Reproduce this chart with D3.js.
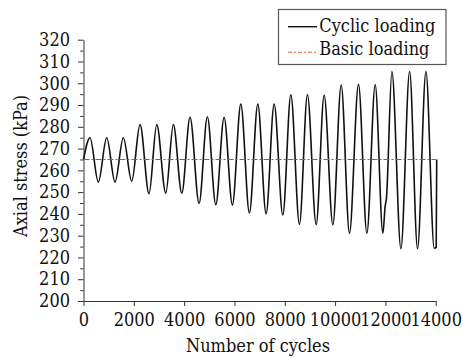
<!DOCTYPE html>
<html>
<head>
<meta charset="utf-8">
<script src="https://cdn.jsdelivr.net/npm/d3@7"></script>
<style>
  html, body { margin: 0; padding: 0; background: #fff; }
  svg { display: block; }
</style>
</head>
<body>
<svg id="chart" width="463" height="358"></svg>
<script>
// Cyclic loading: turning points (number of cycles, kPa)
const cycles = [0, 259, 589, 923, 1253, 1583, 1917,
  2247, 2605, 2912, 3270, 3572, 3906,
  4236, 4594, 4924, 5259, 5589, 5919,
  6253, 6595, 6929, 7259, 7578, 7924,
  8242, 8584, 8902, 9248, 9566, 9912,
  10243, 10573, 10931, 11265, 11595, 11901,
  11990, 12040,
  12259, 12617, 12963, 13278, 13612, 13942,
  14020, 14040];
const cyclicStress = [265, 275, 254.6, 275, 254.6, 275, 255,
  281, 249.3, 281, 249.5, 281, 249.5,
  284.4, 244.8, 284.6, 244.2, 284.4, 244.1,
  290.4, 240.5, 290.4, 240, 290.4, 239.5,
  294.7, 235.3, 294.7, 235.1, 294.5, 235,
  299.2, 231.1, 299.5, 231.1, 299.3, 231.1,
  243.5, 247,
  305.4, 224, 305.4, 224, 305.4, 224.2,
  224.6, 265];

// Basic loading
const basicCycles = [0, 14000];
const basicStress = [265, 265];

// Axes
const xTicks = [0, 2000, 4000, 6000, 8000, 10000, 12000, 14000];
const yTicks = [200, 210, 220, 230, 240, 250, 260, 270, 280, 290, 300, 310, 320];
const yMinorTicks = [205, 215, 225, 235, 245, 255, 265, 275, 285, 295, 305, 315];

const seriesNames = ["Cyclic loading", "Basic loading"];
const xTitle = "Number of cycles";
const yTitle = "Axial stress (kPa)";

const FONT = "DejaVu Serif Condensed, DejaVu Serif";
const svg = d3.select("#chart");
const FS = 18;

const x = d3.scaleLinear().domain([0, 14000]).range([83.5, 435.7]);
const y = d3.scaleLinear().domain([200, 320]).range([301, 39.7]);

function styleText(sel) {
  sel.attr("font-family", FONT).attr("font-stretch", "condensed")
     .attr("font-size", FS).attr("fill", "#111");
}

// y minor ticks
svg.append("g")
  .attr("transform", `translate(${x(0)},0)`)
  .call(d3.axisLeft(y).tickValues(yMinorTicks).tickSize(3.3).tickFormat(""))
  .call(g => g.select(".domain").remove())
  .call(g => g.selectAll("line").attr("stroke", "#333"));

// y axis
svg.append("g")
  .attr("transform", `translate(${x(0)},0)`)
  .call(d3.axisLeft(y).tickValues(yTicks).tickSize(5.5).tickSizeOuter(0).tickPadding(8))
  .call(g => g.select(".domain").attr("stroke", "#333"))
  .call(g => g.selectAll("line").attr("stroke", "#333"))
  .call(g => styleText(g.selectAll("text")));

// x axis
svg.append("g")
  .attr("transform", `translate(0,${y(200)})`)
  .call(d3.axisBottom(x).tickValues(xTicks).tickSize(5).tickSizeOuter(0).tickPadding(7).tickFormat(d3.format("d")))
  .call(g => g.select(".domain").attr("stroke", "#333"))
  .call(g => g.selectAll("line").attr("stroke", "#333"))
  .call(g => styleText(g.selectAll("text")));

// Titles
svg.append("text")
  .attr("x", 258).attr("y", 352)
  .attr("text-anchor", "middle")
  .call(styleText)
  .text(xTitle);

svg.append("text")
  .attr("transform", "translate(27,166) rotate(-90)")
  .attr("text-anchor", "middle")
  .call(styleText)
  .text(yTitle);

// Cyclic line
const cyclicData = cycles.map((c, i) => [c, cyclicStress[i]]);
const line = d3.line().x(d => x(d[0])).y(d => y(d[1])).curve(d3.curveMonotoneX);
svg.append("path")
  .datum(cyclicData)
  .attr("fill", "none")
  .attr("stroke", "#111")
  .attr("stroke-width", 1.6)
  .attr("stroke-linejoin", "round")
  .attr("d", line);

// Basic line
const basicData = basicCycles.map((c, i) => [c, basicStress[i]]);
svg.append("path")
  .datum(basicData)
  .attr("fill", "none")
  .attr("stroke", "#e0392b")
  .attr("stroke-width", 1.1)
  .attr("stroke-dasharray", "6,2,2,2")
  .attr("d", d3.line().x(d => x(d[0])).y(d => y(d[1])));

// Legend
const lg = svg.append("g");
lg.append("rect")
  .attr("x", 278.5).attr("y", 9.5).attr("width", 167.5).attr("height", 55)
  .attr("fill", "#fff").attr("stroke", "#555").attr("stroke-width", 1.2);
lg.append("line")
  .attr("x1", 288).attr("x2", 317).attr("y1", 26.7).attr("y2", 26.7)
  .attr("stroke", "#111").attr("stroke-width", 1.4);
lg.append("line")
  .attr("x1", 288).attr("x2", 316).attr("y1", 52.3).attr("y2", 52.3)
  .attr("stroke", "#f08070").attr("stroke-width", 1.3)
  .attr("stroke-dasharray", "4,2,2,2");
lg.append("text")
  .attr("x", 319.3).attr("y", 31.6)
  .call(styleText)
  .text(seriesNames[0]);
lg.append("text")
  .attr("x", 319.3).attr("y", 55.2)
  .call(styleText)
  .text(seriesNames[1]);
</script>
</body>
</html>
